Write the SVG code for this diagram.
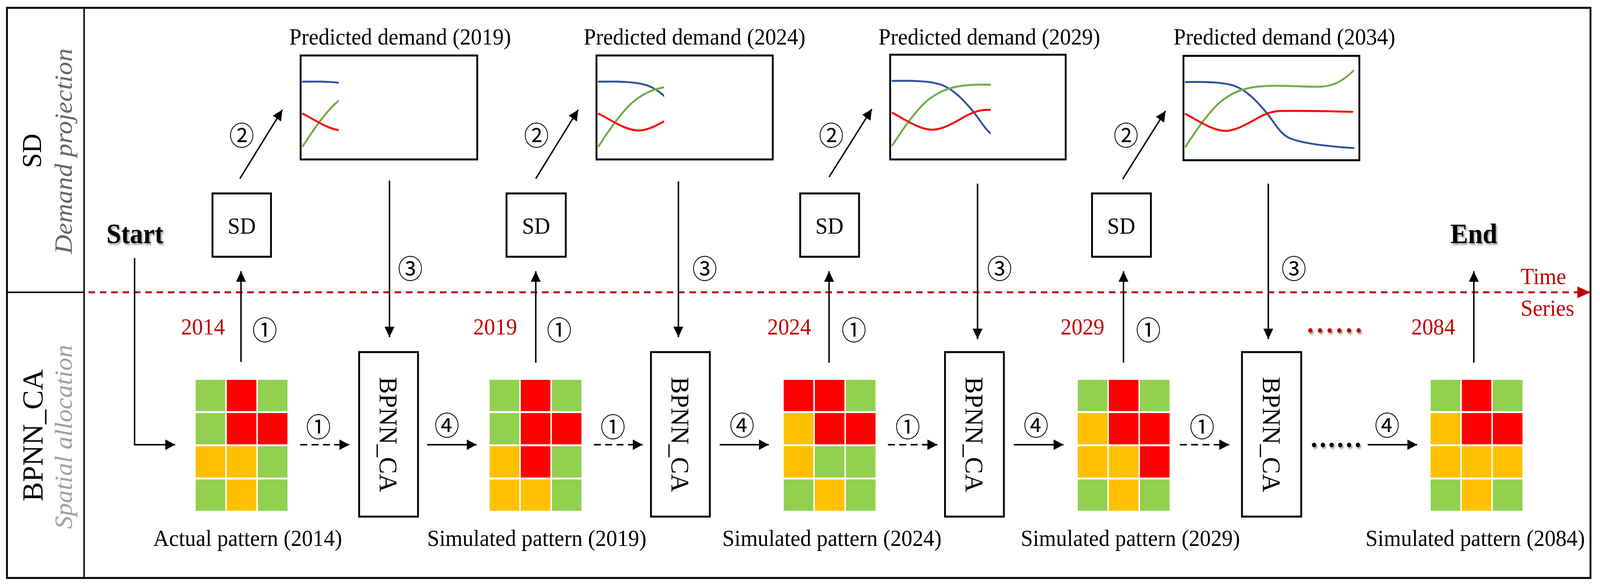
<svg xmlns="http://www.w3.org/2000/svg" xmlns:xlink="http://www.w3.org/1999/xlink" width="4375" height="1497" viewBox="0 0 4375 1497" preserveAspectRatio="none">
<style>
svg{width:100vw;height:100vh}
.frame{fill:none;stroke:#000;stroke-width:5}
.div{fill:none;stroke:#000;stroke-width:4}
.box{fill:#fff;stroke:#000;stroke-width:5}
.t{font-family:"Liberation Serif","Times New Roman",serif;font-size:60px;fill:#000}
.red{fill:#C00000}
.b{font-weight:bold;font-size:72px}
.rot{font-family:"Liberation Serif","Times New Roman",serif;text-anchor:middle}
.it{font-style:italic}
.c{font-family:"Noto Sans CJK SC","DejaVu Sans",sans-serif;font-size:68px;text-anchor:middle;dominant-baseline:central;fill:#000}
.conn{fill:none;stroke:#000;stroke-width:4}
.dash{stroke-dasharray:19 12}
.axis{fill:none;stroke:#C00000;stroke-width:5;stroke-dasharray:18 13}
.G{fill:#92D050}.R{fill:#FF0000}.O{fill:#FFC000}
.cv{fill:none;stroke-width:5;stroke-linecap:round}
</style>
<defs>
<marker id="ah" viewBox="0 0 10 10" refX="10" refY="5" markerWidth="27" markerHeight="27" markerUnits="userSpaceOnUse" orient="auto" preserveAspectRatio="none"><path d="M0,0 L10,5 L0,10 z" fill="#000"/></marker>
<marker id="ahr" viewBox="0 0 10 10" refX="10" refY="5" markerWidth="36" markerHeight="30" markerUnits="userSpaceOnUse" orient="auto" preserveAspectRatio="none"><path d="M0,0 L10,5 L0,10 z" fill="#C00000"/></marker>
<filter id="sh" x="-20%" y="-30%" width="150%" height="180%"><feDropShadow dx="3" dy="4" stdDeviation="2.5" flood-color="#000" flood-opacity="0.45"/></filter>
<g id="curves">
<path class="cv" stroke="#2F5597" d="M6,67 C60,66 110,67 140,77 C170,87 195,110 226,144 C250,172 262,196 285,208 C310,220 360,229 465,236"/>
<path class="cv" stroke="#70AD47" d="M6,232 C35,190 75,135 109,112 C135,94 160,84 200,79 C260,73 330,80 370,79 C410,78 435,65 465,38"/>
<path class="cv" stroke="#FF0000" d="M6,149 C35,162 80,193 117,192 C145,190 165,178 190,166 C215,152 235,142 265,141 C330,140 400,142 462,143"/>
</g>
<clipPath id="cl1"><rect x="0" y="0" width="104" height="266"/></clipPath>
<clipPath id="cl2"><rect x="0" y="0" width="185" height="266"/></clipPath>
<clipPath id="cl3"><rect x="0" y="0" width="275" height="266"/></clipPath>
<clipPath id="cl4"><rect x="0" y="0" width="478" height="266"/></clipPath>
</defs>
<rect width="4375" height="1497" fill="#fff"/>

<g id="frame">
<rect class="frame" x="19" y="20" width="4330" height="1459"/>
<line class="div" x1="230" y1="20" x2="230" y2="1479"/>
<line class="div" x1="19" y1="748" x2="230" y2="748"/>
</g>

<g id="lane-sd">
<text class="rot" transform="translate(112,386) rotate(-90)" font-size="75" textLength="88" lengthAdjust="spacingAndGlyphs">SD</text>
<text class="rot it" transform="translate(196,387) rotate(-90)" font-size="68" fill="#666" textLength="526" lengthAdjust="spacingAndGlyphs">Demand projection</text>
</g>
<g id="lane-ca">
<text class="rot" transform="translate(116,1114) rotate(-90)" font-size="78" textLength="338" lengthAdjust="spacingAndGlyphs">BPNN_CA</text>
<text class="rot it" transform="translate(196,1118) rotate(-90)" font-size="68" fill="#A0A0A0" textLength="471" lengthAdjust="spacingAndGlyphs">Spatial allocation</text>
</g>

<g id="connectors">
<line class="axis" x1="242" y1="748" x2="4349" y2="748" marker-end="url(#ahr)"/>
<polyline class="conn" points="368,660 368,1138 479,1138" marker-end="url(#ah)"/>
<line class="conn" x1="659" y1="926" x2="659" y2="694" marker-end="url(#ah)"/>
<line class="conn" x1="1465" y1="928" x2="1465" y2="694" marker-end="url(#ah)"/>
<line class="conn" x1="2267" y1="928" x2="2267" y2="694" marker-end="url(#ah)"/>
<line class="conn" x1="3072" y1="928" x2="3072" y2="694" marker-end="url(#ah)"/>
<line class="conn" x1="4030" y1="928" x2="4030" y2="694" marker-end="url(#ah)"/>
<line class="conn" x1="656" y1="457" x2="772" y2="281" marker-end="url(#ah)"/>
<line class="conn" x1="1465" y1="457" x2="1581" y2="281" marker-end="url(#ah)"/>
<line class="conn" x1="2267" y1="453" x2="2384" y2="279" marker-end="url(#ah)"/>
<line class="conn" x1="3070" y1="458" x2="3187" y2="284" marker-end="url(#ah)"/>
<line class="conn" x1="1065" y1="462" x2="1065" y2="863" marker-end="url(#ah)"/>
<line class="conn" x1="1855" y1="464" x2="1855" y2="863" marker-end="url(#ah)"/>
<line class="conn" x1="2673" y1="470" x2="2673" y2="868" marker-end="url(#ah)"/>
<line class="conn" x1="3468" y1="470" x2="3468" y2="868" marker-end="url(#ah)"/>
<line class="conn dash" x1="821" y1="1138" x2="955" y2="1138" marker-end="url(#ah)"/>
<line class="conn dash" x1="1624" y1="1138" x2="1757" y2="1138" marker-end="url(#ah)"/>
<line class="conn dash" x1="2428" y1="1138" x2="2563" y2="1138" marker-end="url(#ah)"/>
<line class="conn dash" x1="3226" y1="1138" x2="3361" y2="1138" marker-end="url(#ah)"/>
<line class="conn" x1="1168" y1="1138" x2="1303" y2="1138" marker-end="url(#ah)"/>
<line class="conn" x1="1968" y1="1138" x2="2102" y2="1138" marker-end="url(#ah)"/>
<line class="conn" x1="2772" y1="1138" x2="2908" y2="1138" marker-end="url(#ah)"/>
<line class="conn" x1="3740" y1="1138" x2="3875" y2="1138" marker-end="url(#ah)"/>
</g>

<g id="labels">
<text class="c" x="724" y="841">①</text>
<text class="c" x="1529" y="841">①</text>
<text class="c" x="2335" y="841">①</text>
<text class="c" x="3140" y="841">①</text>
<text class="c" x="661" y="343">②</text>
<text class="c" x="1467" y="343">②</text>
<text class="c" x="2273" y="343">②</text>
<text class="c" x="3079" y="343">②</text>
<text class="c" x="1122" y="684">③</text>
<text class="c" x="1927" y="684">③</text>
<text class="c" x="2733" y="684">③</text>
<text class="c" x="3538" y="684">③</text>
<text class="c" x="871" y="1089">①</text>
<text class="c" x="1676" y="1089">①</text>
<text class="c" x="2482" y="1089">①</text>
<text class="c" x="3287" y="1089">①</text>
<text class="c" x="1222" y="1085">④</text>
<text class="c" x="2029" y="1085">④</text>
<text class="c" x="2833" y="1085">④</text>
<text class="c" x="3793" y="1085">④</text>
<text class="t red" x="495" y="856">2014</text>
<text class="t red" x="1294" y="856">2019</text>
<text class="t red" x="2098" y="856">2024</text>
<text class="t red" x="2900" y="856">2029</text>
<text class="t red" x="3859" y="856">2084</text>
<text class="t red" x="4158" y="727">Time</text>
<text class="t red" x="4158" y="808">Series</text>
<text class="t b red" x="3574" y="851" textLength="150" lengthAdjust="spacing" filter="url(#sh)">......</text>
<text class="t b" x="3584" y="1144" textLength="138" lengthAdjust="spacing" filter="url(#sh)">......</text>
</g>

<g id="start"><text class="t b" x="291" y="622" filter="url(#sh)">Start</text></g>
<g id="end"><text class="t b" x="3966" y="622" filter="url(#sh)">End</text></g>

<g id="sd-1"><rect class="box" x="581" y="495" width="160" height="162"/><text class="t" x="661" y="598" text-anchor="middle">SD</text></g>
<g id="sd-2"><rect class="box" x="1385" y="495" width="162" height="162"/><text class="t" x="1466" y="598" text-anchor="middle">SD</text></g>
<g id="sd-3"><rect class="box" x="2188" y="495" width="161" height="162"/><text class="t" x="2268" y="598" text-anchor="middle">SD</text></g>
<g id="sd-4"><rect class="box" x="2986" y="495" width="161" height="162"/><text class="t" x="3066" y="598" text-anchor="middle">SD</text></g>

<g id="demand-2019">
<text class="t" x="791" y="114">Predicted demand (2019)</text>
<rect class="box" x="822" y="142" width="483" height="266"/>
<g transform="translate(822,142)" clip-path="url(#cl1)"><use xlink:href="#curves"/></g>
</g>
<g id="demand-2024">
<text class="t" x="1596" y="114">Predicted demand (2024)</text>
<rect class="box" x="1631" y="142" width="482" height="266"/>
<g transform="translate(1631,142)" clip-path="url(#cl2)"><use xlink:href="#curves"/></g>
</g>
<g id="demand-2029">
<text class="t" x="2402" y="114">Predicted demand (2029)</text>
<rect class="box" x="2434" y="140" width="480" height="268"/>
<g transform="translate(2434,140)" clip-path="url(#cl3)"><use xlink:href="#curves"/></g>
</g>
<g id="demand-2034">
<text class="t" x="3209" y="114">Predicted demand (2034)</text>
<rect class="box" x="3236" y="143" width="481" height="267"/>
<g transform="translate(3236,143)" clip-path="url(#cl4)"><use xlink:href="#curves"/></g>
</g>

<g id="bpnn-1"><rect class="box" x="982" y="901" width="161" height="421"/><text class="rot" transform="translate(1038,1112) rotate(90)" font-size="70" textLength="295" lengthAdjust="spacingAndGlyphs">BPNN_CA</text></g>
<g id="bpnn-2"><rect class="box" x="1780" y="901" width="161" height="421"/><text class="rot" transform="translate(1836,1112) rotate(90)" font-size="70" textLength="295" lengthAdjust="spacingAndGlyphs">BPNN_CA</text></g>
<g id="bpnn-3"><rect class="box" x="2584" y="901" width="161" height="421"/><text class="rot" transform="translate(2640,1112) rotate(90)" font-size="70" textLength="295" lengthAdjust="spacingAndGlyphs">BPNN_CA</text></g>
<g id="bpnn-4"><rect class="box" x="3396" y="901" width="162" height="421"/><text class="rot" transform="translate(3453,1112) rotate(90)" font-size="70" textLength="295" lengthAdjust="spacingAndGlyphs">BPNN_CA</text></g>

<g id="pattern-2014">
<g transform="translate(535,972)">
<rect class="G" x="0" y="0" width="81" height="80"/><rect class="R" x="85" y="0" width="81" height="80"/><rect class="G" x="170" y="0" width="81" height="80"/>
<rect class="G" x="0" y="85" width="81" height="80"/><rect class="R" x="85" y="85" width="81" height="80"/><rect class="R" x="170" y="85" width="81" height="80"/>
<rect class="O" x="0" y="170" width="81" height="80"/><rect class="O" x="85" y="170" width="81" height="80"/><rect class="G" x="170" y="170" width="81" height="80"/>
<rect class="G" x="0" y="255" width="81" height="80"/><rect class="O" x="85" y="255" width="81" height="80"/><rect class="G" x="170" y="255" width="81" height="80"/>
</g>
<text class="t" x="419" y="1397">Actual pattern (2014)</text>
</g>
<g id="pattern-2019">
<g transform="translate(1339,972)">
<rect class="G" x="0" y="0" width="81" height="80"/><rect class="R" x="85" y="0" width="81" height="80"/><rect class="G" x="170" y="0" width="81" height="80"/>
<rect class="G" x="0" y="85" width="81" height="80"/><rect class="R" x="85" y="85" width="81" height="80"/><rect class="R" x="170" y="85" width="81" height="80"/>
<rect class="O" x="0" y="170" width="81" height="80"/><rect class="R" x="85" y="170" width="81" height="80"/><rect class="G" x="170" y="170" width="81" height="80"/>
<rect class="O" x="0" y="255" width="81" height="80"/><rect class="O" x="85" y="255" width="81" height="80"/><rect class="G" x="170" y="255" width="81" height="80"/>
</g>
<text class="t" x="1168" y="1397">Simulated pattern (2019)</text>
</g>
<g id="pattern-2024">
<g transform="translate(2143,972)">
<rect class="R" x="0" y="0" width="81" height="80"/><rect class="R" x="85" y="0" width="81" height="80"/><rect class="G" x="170" y="0" width="81" height="80"/>
<rect class="O" x="0" y="85" width="81" height="80"/><rect class="R" x="85" y="85" width="81" height="80"/><rect class="R" x="170" y="85" width="81" height="80"/>
<rect class="O" x="0" y="170" width="81" height="80"/><rect class="G" x="85" y="170" width="81" height="80"/><rect class="G" x="170" y="170" width="81" height="80"/>
<rect class="G" x="0" y="255" width="81" height="80"/><rect class="O" x="85" y="255" width="81" height="80"/><rect class="G" x="170" y="255" width="81" height="80"/>
</g>
<text class="t" x="1975" y="1397">Simulated pattern (2024)</text>
</g>
<g id="pattern-2029">
<g transform="translate(2947,972)">
<rect class="G" x="0" y="0" width="81" height="80"/><rect class="R" x="85" y="0" width="81" height="80"/><rect class="G" x="170" y="0" width="81" height="80"/>
<rect class="O" x="0" y="85" width="81" height="80"/><rect class="R" x="85" y="85" width="81" height="80"/><rect class="R" x="170" y="85" width="81" height="80"/>
<rect class="O" x="0" y="170" width="81" height="80"/><rect class="O" x="85" y="170" width="81" height="80"/><rect class="R" x="170" y="170" width="81" height="80"/>
<rect class="G" x="0" y="255" width="81" height="80"/><rect class="O" x="85" y="255" width="81" height="80"/><rect class="G" x="170" y="255" width="81" height="80"/>
</g>
<text class="t" x="2791" y="1397">Simulated pattern (2029)</text>
</g>
<g id="pattern-2084">
<g transform="translate(3912,972)">
<rect class="G" x="0" y="0" width="81" height="80"/><rect class="R" x="85" y="0" width="81" height="80"/><rect class="G" x="170" y="0" width="81" height="80"/>
<rect class="O" x="0" y="85" width="81" height="80"/><rect class="R" x="85" y="85" width="81" height="80"/><rect class="R" x="170" y="85" width="81" height="80"/>
<rect class="O" x="0" y="170" width="81" height="80"/><rect class="O" x="85" y="170" width="81" height="80"/><rect class="O" x="170" y="170" width="81" height="80"/>
<rect class="G" x="0" y="255" width="81" height="80"/><rect class="O" x="85" y="255" width="81" height="80"/><rect class="G" x="170" y="255" width="81" height="80"/>
</g>
<text class="t" x="3734" y="1397">Simulated pattern (2084)</text>
</g>
</svg>
